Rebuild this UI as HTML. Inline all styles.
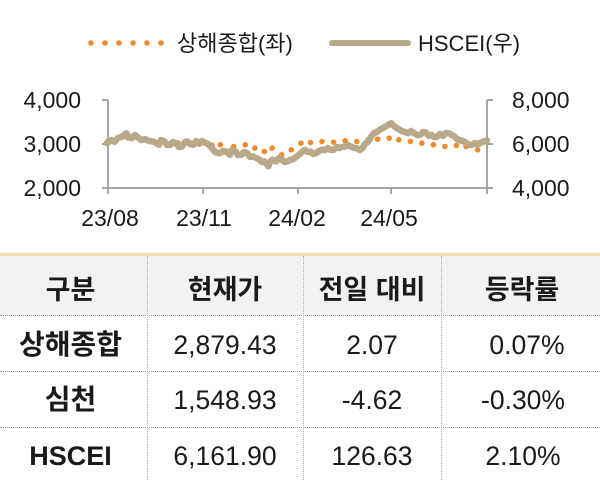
<!DOCTYPE html>
<html><head><meta charset="utf-8"><style>
html,body{margin:0;padding:0;background:#fff;}
body{width:600px;height:480px;position:relative;overflow:hidden;font-family:"Liberation Sans","Noto Sans CJK KR",sans-serif;color:#1a1a1a;}
.t{position:absolute;text-align:center;white-space:nowrap;}
.h{font-size:27px;font-weight:bold;line-height:40px;top:270px;}
.n{font-size:26px;font-weight:bold;line-height:40px;}
.v{font-size:26.5px;line-height:40px;}
</style></head><body>
<svg width="600" height="250" style="position:absolute;left:0;top:0" font-family="Liberation Sans, Noto Sans CJK KR, sans-serif">
<g fill="#f08a2c">
<circle cx="91" cy="43" r="2.8"/><circle cx="105" cy="43" r="2.8"/><circle cx="119" cy="43" r="2.8"/><circle cx="133" cy="43" r="2.8"/><circle cx="147" cy="43" r="2.8"/><circle cx="161" cy="43" r="2.8"/>
</g>
<text x="177" y="51" font-size="22" fill="#1a1a1a">상해종합(좌)</text>
<line x1="332" y1="43" x2="408" y2="43" stroke="#b9a98a" stroke-width="6" stroke-linecap="round"/>
<text x="418" y="51" font-size="22" fill="#1a1a1a">HSCEI(우)</text>
<g stroke="#a6a6a6" stroke-width="2" fill="none">
<line x1="108" y1="100" x2="108" y2="188"/>
<line x1="487" y1="100" x2="487" y2="188"/>
<line x1="108" y1="188" x2="487" y2="188"/>
<line x1="102" y1="100" x2="108" y2="100"/><line x1="102" y1="144" x2="108" y2="144"/><line x1="102" y1="188" x2="108" y2="188"/>
<line x1="487" y1="100" x2="493" y2="100"/><line x1="487" y1="144" x2="493" y2="144"/><line x1="487" y1="188" x2="493" y2="188"/>
<line x1="108" y1="188" x2="108" y2="194"/><line x1="203" y1="188" x2="203" y2="194"/><line x1="298" y1="188" x2="298" y2="194"/><line x1="391" y1="188" x2="391" y2="194"/><line x1="487" y1="188" x2="487" y2="194"/>
</g>
<g font-size="23" fill="#1a1a1a" text-anchor="end">
<text x="81" y="108">4,000</text><text x="81" y="152">3,000</text><text x="81" y="196">2,000</text>
</g>
<g font-size="23" fill="#1a1a1a" text-anchor="start">
<text x="512" y="108">8,000</text><text x="512" y="152">6,000</text><text x="512" y="196">4,000</text>
</g>
<g font-size="23" fill="#1a1a1a" text-anchor="middle">
<text x="110" y="226">23/08</text><text x="204" y="226">23/11</text><text x="297" y="226">24/02</text><text x="389" y="226">24/05</text>
</g>
<g fill="#f08a2c">
<circle cx="108" cy="141" r="2.8"/><circle cx="118" cy="138" r="2.8"/><circle cx="128" cy="138" r="2.8"/><circle cx="140" cy="139" r="2.8"/><circle cx="152" cy="141" r="2.8"/><circle cx="165" cy="143" r="2.8"/><circle cx="178" cy="143" r="2.8"/><circle cx="191" cy="143" r="2.8"/><circle cx="204" cy="143" r="2.8"/><circle cx="212" cy="145" r="2.8"/>
<circle cx="220.3" cy="144.8" r="2.8"/><circle cx="233.7" cy="146.5" r="2.8"/><circle cx="245.2" cy="144.8" r="2.8"/><circle cx="254.8" cy="148.1" r="2.8"/><circle cx="264.4" cy="151.5" r="2.8"/><circle cx="272.1" cy="148.1" r="2.8"/><circle cx="281.7" cy="154.8" r="2.8"/><circle cx="291.3" cy="149.8" r="2.8"/><circle cx="300.9" cy="143.2" r="2.8"/><circle cx="310.5" cy="142.5" r="2.8"/><circle cx="322" cy="141.5" r="2.8"/><circle cx="333.6" cy="142.2" r="2.8"/><circle cx="345.2" cy="140.8" r="2.8"/><circle cx="356.7" cy="141.5" r="2.8"/><circle cx="368.1" cy="139.8" r="2.8"/><circle cx="377.7" cy="139.2" r="2.8"/><circle cx="389.2" cy="138.2" r="2.8"/><circle cx="398.8" cy="139.8" r="2.8"/><circle cx="410.4" cy="141.5" r="2.8"/><circle cx="421.9" cy="143.2" r="2.8"/><circle cx="433.4" cy="144.8" r="2.8"/><circle cx="444.9" cy="146.5" r="2.8"/><circle cx="456.4" cy="145.5" r="2.8"/><circle cx="466" cy="146.5" r="2.8"/><circle cx="477.6" cy="149.8" r="2.8"/>
</g>
<polyline fill="none" stroke="#b9a98a" stroke-width="6.5" stroke-linejoin="round" stroke-linecap="round" points="107,143.2 111,140 114.7,141.8 118,138 122.4,136.5 126.2,133.2 129,137 132,138.2 135,135 137.7,137.2 141,140 145.4,139.2 149,141 153,141.5 156,143 158.8,144.8 161,140 164.6,141.5 167,145 170.4,144.8 173,142 176.1,143.2 179,147 181.9,146.5 185,142 187.6,141.5 190,144 193.4,144.8 196,141 199.2,143.8 202,141 204.9,142.5 208,144 210.7,146.5 214.5,151.5 217,153 220.3,153.1 223,151 226,151.5 229.9,154.8 232,150 235.6,151.5 238,155 241.4,154.8 244,152 247.2,153.1 250,157 252.9,156.4 256,158 258.7,159.1 262,162 264.4,161.4 268.3,166.4 270,162 272.1,159.8 276,161.4 279,158 281.7,159.8 285,162 287.5,161.4 290,160 293.3,159.1 296,157 299,154.8 302,152 304.8,149.8 308,152 310.5,151.5 313,154 316.3,153.1 319,151 322,149.8 325,150 327.8,148.1 331,150 333.6,149.8 337,147 339.4,148.1 342,147 345.2,146.5 348,145 350.9,146.5 354,148 356.7,148.1 360,150 362.4,148.1 365,144 368.1,141.5 371,137 373.9,133.2 377,132 379.6,129.9 383,128 385.4,126.6 388,125 391.2,123.2 394,126 397,128.2 400,130 402.7,131.5 405,132 408.5,133.2 411,131 414.2,133.2 417,135 420,134.9 423,132 425.7,132.5 429,136 431.5,134.9 434,137 437.2,136.5 440,134 443,135.9 446,133 448.8,133.2 452,135 454.5,136.5 457,139 460.3,140.5 463,141 466,142.5 469,145 471.8,144.8 475,143 477.6,144.8 480,143 483.3,141.5 487,140.5"/>
</svg>
<div style="position:absolute;left:0;top:253px;width:600px;height:3px;background:#f3dfae"></div>
<div style="position:absolute;left:0;top:256px;width:600px;height:59px;background:#f2f2f2"></div>
<div style="position:absolute;left:0;top:315px;width:600px;border-top:1px dotted #999"></div>
<div style="position:absolute;left:0;top:371px;width:600px;border-top:1px dotted #999"></div>
<div style="position:absolute;left:0;top:427px;width:600px;border-top:1px dotted #999"></div>
<div style="position:absolute;left:147px;top:256px;height:224px;border-left:1px dotted #aaa"></div>
<div style="position:absolute;left:303px;top:256px;height:224px;border-left:1px dotted #aaa"></div>
<div style="position:absolute;left:441px;top:256px;height:224px;border-left:1px dotted #aaa"></div>
<div class="t h" style="left:0;width:141px;">구분</div>
<div class="t h" style="left:147px;width:156px;">현재가</div>
<div class="t h" style="left:303px;width:138px;">전일 대비</div>
<div class="t h" style="left:441px;width:162px;">등락률</div>

<div class="t n" style="left:0;width:141px;top:325px;font-size:28px">상해종합</div>
<div class="t v" style="left:147px;width:156px;top:325px">2,879.43</div>
<div class="t v" style="left:303px;width:138px;top:325px">2.07</div>
<div class="t v" style="left:441px;width:172px;top:325px">0.07%</div>

<div class="t n" style="left:0;width:141px;top:380px;font-size:28px">심천</div>
<div class="t v" style="left:147px;width:156px;top:380px">1,548.93</div>
<div class="t v" style="left:303px;width:138px;top:380px">-4.62</div>
<div class="t v" style="left:441px;width:164px;top:380px">-0.30%</div>

<div class="t n" style="left:0;width:141px;top:436px;font-size:27px">HSCEI</div>
<div class="t v" style="left:147px;width:156px;top:436px">6,161.90</div>
<div class="t v" style="left:303px;width:138px;top:436px">126.63</div>
<div class="t v" style="left:441px;width:164px;top:436px">2.10%</div>
</body></html>
